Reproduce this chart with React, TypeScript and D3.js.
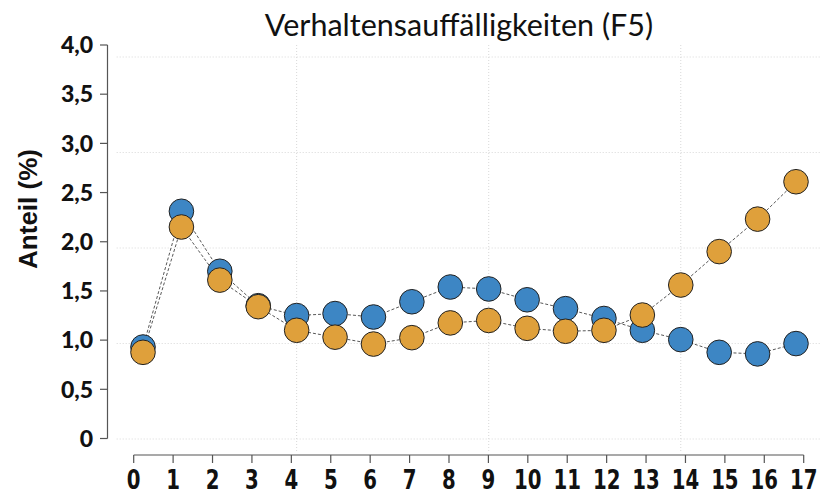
import * as d3 from "d3";

const ages = [0, 1, 2, 3, 4, 5, 6, 7, 8, 9, 10, 11, 12, 13, 14, 15, 16, 17];
const seriesBlue = [0.93, 2.31, 1.7, 1.35, 1.25, 1.27, 1.235, 1.39, 1.54, 1.52, 1.41, 1.32, 1.22, 1.1, 1.005, 0.876, 0.86, 0.965];
const seriesOrange = [0.876, 2.15, 1.61, 1.34, 1.1, 1.03, 0.96, 1.025, 1.175, 1.2, 1.12, 1.09, 1.1, 1.255, 1.56, 1.9, 2.23, 2.61];
const yTicks = [0, 0.5, 1, 1.5, 2, 2.5, 3, 3.5, 4];
const gridXValues = [4, 9, 14];
const gridYValues = [0, 1, 2, 3, 4];

const W = 820;
const H = 494;

export default function App() {
  // axis scales
  const xAxis = d3.scaleLinear().domain([0, 17]).range([133.7, 803.7]);
  const y = d3.scaleLinear().domain([0, 4]).range([438.5, 45]);
  // plotting region (points and grid) is slightly offset from the axes
  const xPts = d3.scaleLinear().domain([0, 17]).range([143, 796]);
  const yGrid = d3.scaleLinear().domain([0, 4]).range([439, 57]);

  const fmt = (v: number) => (v === 0 ? "0" : d3.format(".1f")(v).replace(".", ","));

  const line = d3.line<number>()
    .x((_, i) => xPts(ages[i]))
    .y((d) => y(d));

  const series = [
    { values: seriesBlue, color: "#3d86c4" },
    { values: seriesOrange, color: "#dfa03b" },
  ];

  return (
    <svg width={W} height={H} style={{ position: "absolute", left: 0, top: 0 }}>
      <rect width={W} height={H} fill="#fff" />

      {/* grid */}
      <g stroke="#d8d8d8" strokeWidth={1} strokeDasharray="1,2">
        {gridYValues.map((v) => (
          <line key={"gy" + v} x1={116.7} x2={W} y1={yGrid(v)} y2={yGrid(v)} />
        ))}
        {gridXValues.map((v) => (
          <line key={"gx" + v} x1={xPts(v)} x2={xPts(v)} y1={45} y2={453} />
        ))}
      </g>

      {/* title */}
      <text x={459} y={36} textAnchor="middle" fontFamily="Lato, 'Open Sans', sans-serif" fontSize={30.5} fill="#111">
        Verhaltensauffälligkeiten (F5)
      </text>

      {/* y axis */}
      <g stroke="#555" strokeWidth={1.2}>
        <line x1={107.5} x2={107.5} y1={y(4)} y2={y(0)} />
        {yTicks.map((t) => (
          <line key={t} x1={100} x2={107.5} y1={y(t)} y2={y(t)} />
        ))}
      </g>
      {yTicks.map((t) => (
        <text key={"yl" + t} x={93} y={y(t)} dy="0.36em" textAnchor="end"
          fontFamily="Lato, sans-serif" fontWeight={900} fontSize={23} fill="#111">
          {fmt(t)}
        </text>
      ))}
      <text transform={`translate(37,209) rotate(-90)`} textAnchor="middle"
        fontFamily="Arial, 'Liberation Sans', sans-serif" fontWeight="bold" fontSize={26} fill="#111">
        Anteil (%)
      </text>

      {/* x axis */}
      <g stroke="#555" strokeWidth={1.2}>
        <line x1={xAxis(0)} x2={xAxis(17)} y1={455} y2={455} />
        {ages.map((a) => (
          <line key={a} x1={xAxis(a)} x2={xAxis(a)} y1={455} y2={463} />
        ))}
      </g>
      {ages.map((a) => (
        <text key={"xl" + a} transform={`translate(${xAxis(a)},489) scale(0.76,1)`} textAnchor="middle"
          fontFamily="'DejaVu Sans', sans-serif" fontWeight="bold" fontSize={26} fill="#111">
          {a}
        </text>
      ))}

      {/* connecting lines */}
      {series.map((s, k) => (
        <path key={"l" + k} d={line(s.values) || ""} fill="none" stroke="#444" strokeWidth={0.9} strokeDasharray="3,2" />
      ))}

      {/* points */}
      {series.map((s, k) => (
        <g key={"p" + k}>
          {s.values.map((v, i) => (
            <circle key={i} cx={xPts(ages[i])} cy={y(v)} r={12.3} fill={s.color} stroke="#222" strokeWidth={1} />
          ))}
        </g>
      ))}
    </svg>
  );
}
